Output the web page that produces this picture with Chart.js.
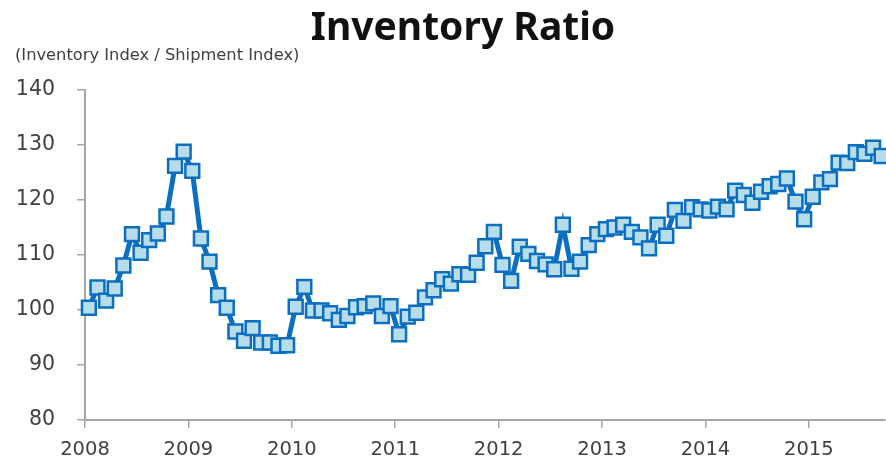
<!DOCTYPE html>
<html>
<head>
<meta charset="utf-8">
<script src="https://cdn.jsdelivr.net/npm/chart.js@4"></script>
<style>
  html, body { margin: 0; padding: 0; background: #fff; }
  .wrap { position: relative; width: 886px; height: 460px; overflow: hidden; }
  .title {
    position: absolute; left: 40px; width: 846px; top: -2px;
    text-align: center; font: bold 39px "Noto Sans", sans-serif; color: #111;
  }
  .subtitle {
    position: absolute; left: 15px; top: 45px;
    font: 16.3px "DejaVu Sans", sans-serif; color: #404040;
  }
  canvas { position: absolute; left: 0; top: 0; }
</style>
</head>
<body>
<div class="wrap">
  <canvas id="chart" width="897" height="460"></canvas>
  <div class="title">Inventory Ratio</div>
  <div class="subtitle">(Inventory Index / Shipment Index)</div>
</div>
<script>
// years on the x axis, one tick per January
const years = ['2008', '2009', '2010', '2011', '2012', '2013', '2014', '2015'];

// monthly ratio, Jan 2008 .. Sep 2015
const ratio2008 = [100.4, 104.1, 101.7, 103.9, 108.1, 113.8, 110.4, 112.7, 113.9, 117.0, 126.2, 128.8];
const ratio2009 = [125.3, 113.0, 108.8, 102.7, 100.4, 96.1, 94.4, 96.7, 94.1, 94.1, 93.5, 93.6];
const ratio2010 = [100.6, 104.2, 99.9, 99.9, 99.4, 98.2, 98.9, 100.5, 100.7, 101.2, 98.9, 100.7];
const ratio2011 = [95.6, 98.8, 99.5, 102.3, 103.6, 105.6, 104.8, 106.5, 106.4, 108.6, 111.6, 114.2];
const ratio2012 = [108.2, 105.3, 111.5, 110.2, 108.9, 108.3, 107.4, 115.5, 107.5, 108.8, 111.8, 113.8];
const ratio2013 = [114.7, 115.0, 115.5, 114.2, 113.2, 111.2, 115.5, 113.5, 118.2, 116.2, 118.7, 118.3];
const ratio2014 = [118.1, 118.8, 118.3, 121.7, 120.9, 119.5, 121.5, 122.5, 122.9, 123.9, 119.7, 116.5];
const ratio2015 = [120.6, 123.2, 123.8, 126.8, 126.7, 128.7, 128.4, 129.5, 128.0];

const yTicks = [80, 90, 100, 110, 120, 130, 140];

const ratio = [].concat(ratio2008, ratio2009, ratio2010, ratio2011,
                        ratio2012, ratio2013, ratio2014, ratio2015);
// months counted from Jan 2008, each point sits a little into its month
const points = ratio.map((v, i) => ({ x: i + 0.45, y: v }));

const axisGray = '#a6a6a6';
const textGray = '#404040';
const blue = '#0b6fc1';

new Chart(document.getElementById('chart'), {
  type: 'line',
  data: {
    datasets: [{
      data: points,
      borderColor: blue,
      borderWidth: 5,
      tension: 0,
      pointStyle: 'rect',
      pointRadius: 9.8,
      pointBackgroundColor: '#b8ddea',
      pointBorderColor: blue,
      pointBorderWidth: 2.5,
      clip: false
    }]
  },
  options: {
    responsive: false,
    animation: false,
    layout: { padding: { top: 90, right: 0, bottom: 0, left: 0 } },
    plugins: { legend: { display: false }, tooltip: { enabled: false } },
    scales: {
      x: {
        type: 'linear',
        min: 0,
        max: 92.8,
        afterBuildTicks: s => { s.ticks = years.map((y, i) => ({ value: i * 12 })); },
        afterFit: s => { s.height = 40; },
        ticks: {
          callback: v => years[Math.round(v / 12)],
          color: textGray,
          font: { family: 'DejaVu Sans', size: 19.5 },
          padding: 10,
          maxRotation: 0
        },
        grid: { drawOnChartArea: false, drawTicks: true, tickLength: 8, color: axisGray, lineWidth: 1.5 },
        border: { display: true, color: axisGray, width: 2 }
      },
      y: {
        min: 80,
        max: 140,
        afterBuildTicks: s => { s.ticks = yTicks.map(v => ({ value: v })); },
        afterFit: s => { s.width = 85; },
        ticks: {
          color: textGray,
          font: { family: 'DejaVu Sans', size: 20.5 },
          padding: 22
        },
        grid: { drawOnChartArea: false, drawTicks: true, tickLength: 8, color: axisGray, lineWidth: 1.5 },
        border: { display: true, color: axisGray, width: 2 }
      }
    }
  }
});
</script>
</body>
</html>
